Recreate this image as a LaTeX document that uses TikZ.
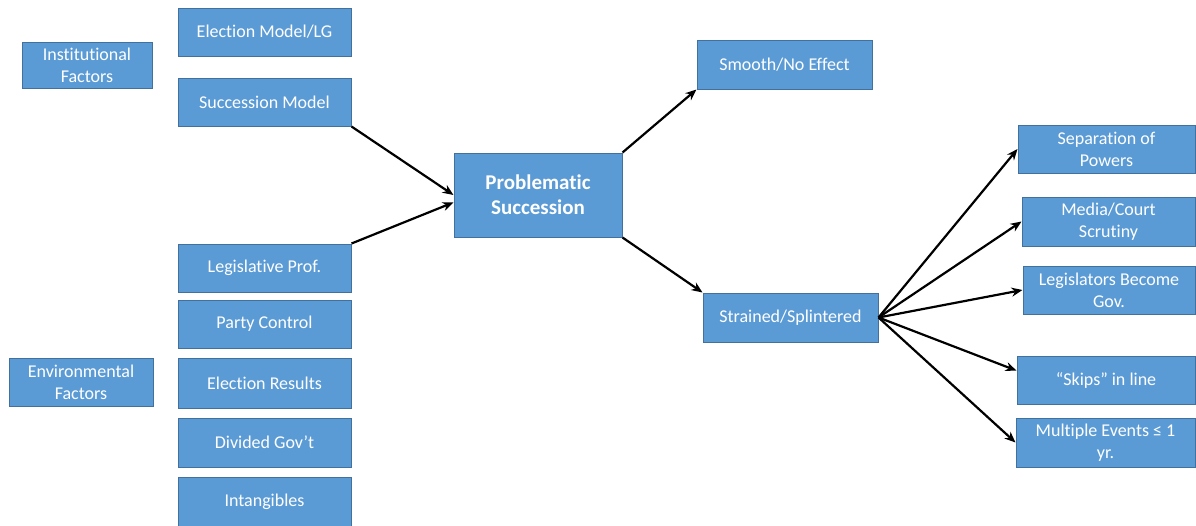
\documentclass[tikz,border=0pt]{standalone}
\usepackage{fontspec}
\setmainfont{Carlito}[Ligatures=NoCommon]
\usetikzlibrary{arrows.meta}
\definecolor{boxblue}{HTML}{5B9BD5}
\definecolor{boxline}{HTML}{41719C}
\tikzset{
  factor/.style ={rectangle,draw=boxline,fill=boxblue,text=white,inner sep=0pt,
                  line width=1pt,minimum width=173pt,minimum height=48pt,
                  align=center,font=\fontsize{18}{22}\selectfont},
  core/.style   ={factor,minimum width=168pt,minimum height=84pt,
                  font=\fontsize{21}{25}\selectfont\bfseries},
  arr/.style    ={-{Stealth[length=11pt,width=9pt]},line width=2.2pt}
}
\begin{document}
\begin{tikzpicture}[x=1pt,y=-1pt]
  \useasboundingbox (0,0) rectangle (1196,525);

  % Headings
  \node (inst) at (87,65)  [factor,minimum width=130pt,minimum height=46pt] {Institutional\\Factors};
  \node (env)  at (81,382) [factor,minimum width=144pt] {Environmental\\Factors};

  % Factors
  \node (elecmodel) at (264.5,32)    [factor] {Election Model/LG};
  \node (succmodel) at (264.5,102)   [factor] {Succession Model};
  \node (legprof)   at (264.5,268)   [factor] {Legislative Prof.};
  \node (party)     at (264.5,324)   [factor] {Party Control};
  \node (elecres)   at (264.5,383)   [factor,minimum height=50pt] {Election Results};
  \node (divided)   at (264.5,442.5) [factor,minimum height=49pt] {Divided Gov’t};
  \node (intang)    at (264.5,501.5) [factor,minimum height=49pt] {Intangibles};

  % Succession
  \node (problem)  at (538,195)     [core] {Problematic\\Succession};
  \node (smooth)   at (784.5,64.5)  [factor,minimum width=175pt,minimum height=49pt] {Smooth/No Effect};
  \node (strained) at (790.5,317.5) [factor,minimum width=175pt,minimum height=49pt] {Strained/Splintered};

  % Effects
  \node (sep)      at (1106.5,149)   [factor,minimum width=177pt] {Separation of\\Powers};
  \node (media)    at (1108.5,221.5) [factor,minimum height=49pt] {Media/Court\\Scrutiny};
  \node (legis)    at (1109,290)     [factor,minimum width=172pt] {Legislators Become\\Gov.};
  \node (skips)    at (1106,380)     [factor,minimum width=178pt] {“Skips” in line};
  \node (multiple) at (1105.5,442.5) [factor,minimum width=179pt,minimum height=49pt] {Multiple Events ≤ 1\\yr.};

  % Links
  \draw[arr] (succmodel.south east) -- (problem.west);
  \draw[arr] (legprof.north east) -- (problem.185);
  \draw[arr] (problem.north east) -- (smooth.south west);
  \draw[arr] (problem.south east) -- (strained.north west);
  \draw[arr] (strained.east) -- (sep.west);
  \draw[arr] (strained.east) -- (media.west);
  \draw[arr] (strained.east) -- (legis.west);
  \draw[arr] (strained.east) -- (skips.174);
  \draw[arr] (strained.east) -- (multiple.west);
\end{tikzpicture}
\end{document}
